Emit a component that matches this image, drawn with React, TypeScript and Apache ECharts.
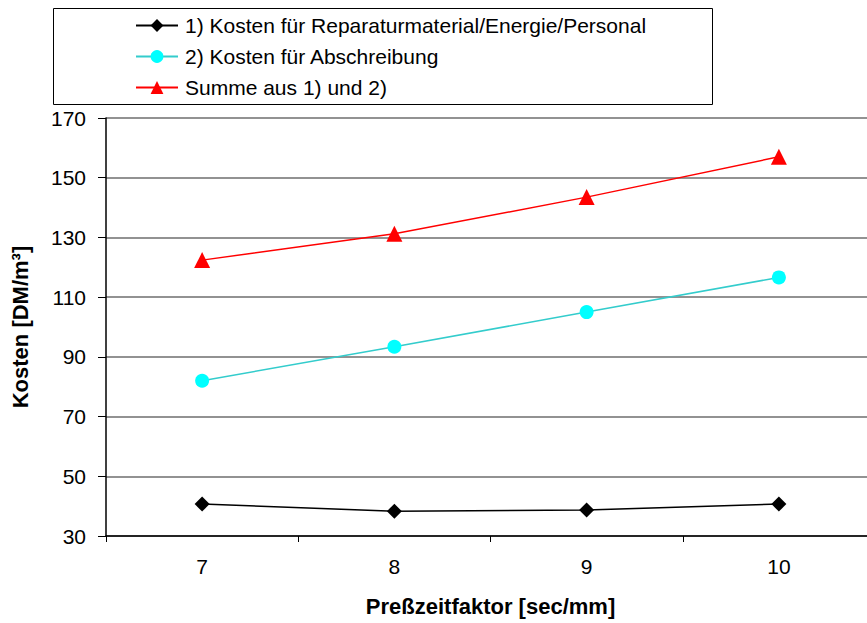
import React, { useEffect, useRef } from "react";
import * as echarts from "echarts";

const categories = ["7", "8", "9", "10"];
const seriesNames = [
  "1) Kosten für Reparaturmaterial/Energie/Personal",
  "2) Kosten für Abschreibung",
  "Summe aus 1) und 2)",
];
const kostenReparatur = [40.7, 38.3, 38.7, 40.7];
const kostenAbschreibung = [82.0, 93.4, 105.0, 116.6];
const summe = [122.4, 131.2, 143.5, 157.0];

const yMin = 30;
const yMax = 170;
const yInterval = 20;

const FONT = "'Liberation Sans', Arial, sans-serif";

export default function App() {
  const ref = useRef<HTMLDivElement>(null);
  useEffect(() => {
    if (!ref.current) return;
    const chart = echarts.init(ref.current, undefined, { renderer: "svg" });
    chart.setOption({
      animation: false,
      backgroundColor: "#ffffff",
      textStyle: { fontFamily: FONT },
      graphic: [
        {
          type: "rect",
          shape: { x: 53.5, y: 8.5, width: 659, height: 96 },
          style: { fill: "none", stroke: "#000", lineWidth: 1 },
          z: 0,
        },
      ],
      legend: {
        orient: "vertical",
        left: 130,
        top: 10,
        itemWidth: 42,
        itemHeight: 16,
        itemGap: 10,
        textStyle: { fontSize: 21, color: "#000", fontFamily: FONT, padding: [0, 0, 0, 2] },
        data: seriesNames,
      },
      grid: { left: 106, right: 5, top: 118, bottom: 87, containLabel: false },
      xAxis: {
        type: "category",
        data: categories,
        boundaryGap: true,
        name: "Preßzeitfaktor [sec/mm]",
        nameLocation: "middle",
        nameGap: 59,
        nameTextStyle: { fontSize: 22, fontWeight: "bold", color: "#000", fontFamily: FONT },
        axisLine: { show: true, lineStyle: { color: "#000", width: 1.5 } },
        axisTick: { show: true, alignWithLabel: false, inside: false, length: 6, lineStyle: { color: "#000" } },
        axisLabel: { fontSize: 21, color: "#000", margin: 20, fontFamily: FONT },
        splitLine: { show: false },
      },
      yAxis: {
        type: "value",
        min: yMin,
        max: yMax,
        interval: yInterval,
        name: "Kosten [DM/m³]",
        nameLocation: "middle",
        nameRotate: 90,
        nameGap: 75,
        nameTextStyle: { fontSize: 22, fontWeight: "bold", color: "#000", fontFamily: FONT },
        axisLine: { show: true, lineStyle: { color: "#000", width: 1.5 } },
        axisTick: { show: true, inside: false, length: 8, lineStyle: { color: "#000" } },
        axisLabel: { fontSize: 21, color: "#000", margin: 20, fontFamily: FONT },
        splitLine: { show: true, lineStyle: { color: "#6e6e6e", width: 1.5 } },
      },
      series: [
        {
          name: seriesNames[0],
          type: "line",
          data: kostenReparatur,
          symbol: "diamond",
          symbolSize: 15,
          itemStyle: { color: "#000" },
          lineStyle: { color: "#000", width: 1.5 },
        },
        {
          name: seriesNames[1],
          type: "line",
          data: kostenAbschreibung,
          symbol: "circle",
          symbolSize: 14,
          itemStyle: { color: "#00ffff" },
          lineStyle: { color: "#33cccc", width: 1.5 },
        },
        {
          name: seriesNames[2],
          type: "line",
          data: summe,
          symbol: "triangle",
          symbolSize: 16,
          itemStyle: { color: "#ff0000" },
          lineStyle: { color: "#ff0000", width: 1.5 },
        },
      ],
    });
    return () => chart.dispose();
  }, []);
  return (
    <div
      style={{ position: "fixed", left: 0, top: 0, width: 867, height: 623, overflow: "hidden" }}
    >
      <div ref={ref} style={{ width: 880, height: 623 }} />
    </div>
  );
}
